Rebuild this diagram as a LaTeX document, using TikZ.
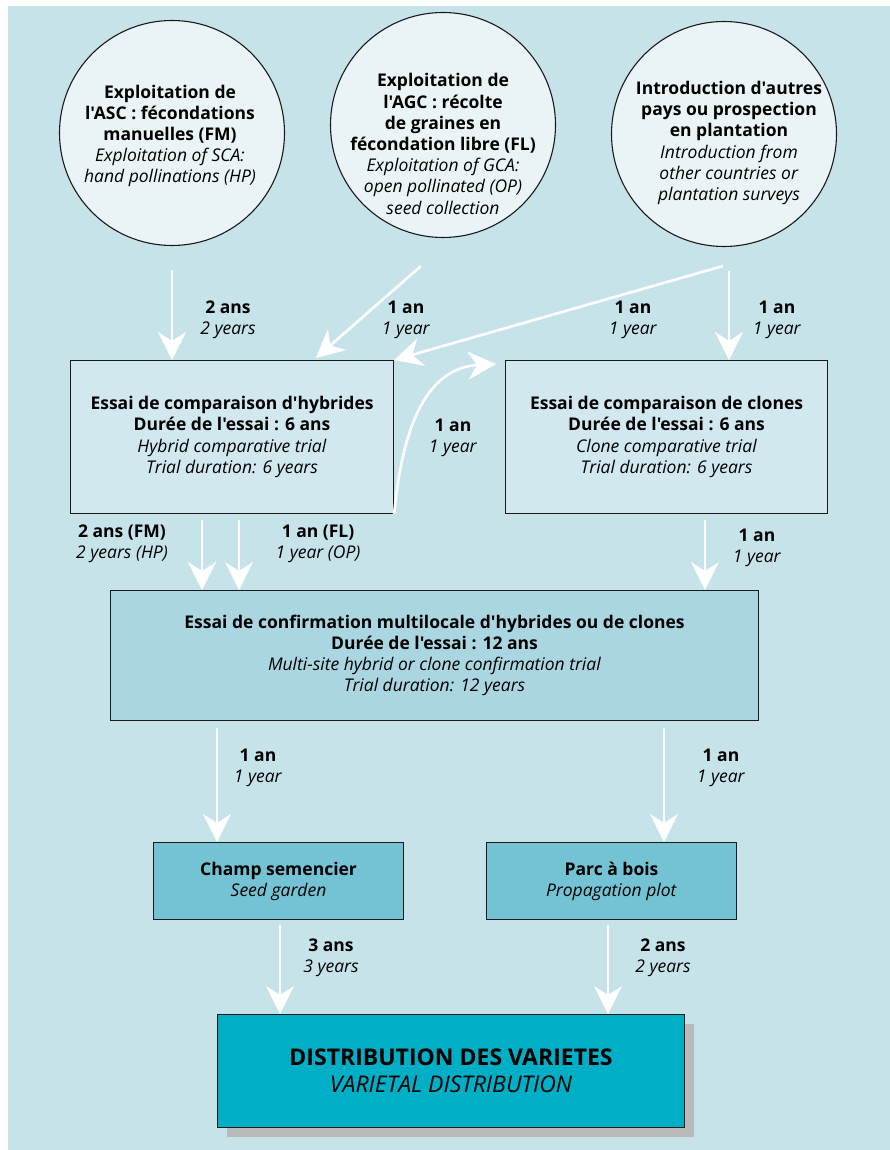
\documentclass[tikz,border=0pt]{standalone}
\usepackage{fontspec}
\setmainfont{Open Sans}[Ligatures={ResetAll,TeXOff}]
\usetikzlibrary{arrows.meta}
\definecolor{bgc}{HTML}{C6E3EA}
\definecolor{circc}{HTML}{EAF4F6}
\definecolor{boxa}{HTML}{D0E8EE}
\definecolor{boxc}{HTML}{A9D6E1}
\definecolor{boxd}{HTML}{74C3D4}
\definecolor{boxf}{HTML}{00AEC6}
\definecolor{shad}{HTML}{B9B9B9}
\definecolor{edge}{HTML}{1A1A1A}
\tikzset{
  circ/.style={circle, draw=edge, line width=1.1pt, fill=circc, minimum size=225pt, inner sep=0pt},
  bx/.style={draw=edge, line width=1.1pt, inner sep=0pt, anchor=north west},
  txt/.style={align=center, font=\fontsize{17.5}{21.2}\selectfont, inner sep=0pt},
  lbl/.style={align=center, font=\fontsize{17.5}{21.2}\selectfont, inner sep=0pt},
  arr/.style={draw=white, line width=2.6pt, -{Stealth[length=28pt,width=28pt,inset=9pt]}},
}
\begin{document}
\begin{tikzpicture}[x=1pt,y=-1pt]
\useasboundingbox (0,0) rectangle (890,1150);
\fill[bgc] (8,6) rectangle (890,1150);

% circles
\node[circ] (c1) at (172,133) {};
\node[circ] (c2) at (443,125) {};
\node[circ] (c3) at (724,134) {};
\node[txt] (t1) at (170,136) {\textbf{Exploitation de}\\\textbf{l'ASC : fécondations}\\\textbf{manuelles (FM)}\\\textit{Exploitation of SCA:}\\\textit{hand pollinations (HP)}};
\node[txt] (t2) at (443,144) {\textbf{Exploitation de}\\\textbf{l'AGC : récolte}\\\textbf{de graines en}\\\textbf{fécondation libre (FL)}\\\textit{Exploitation of GCA:}\\\textit{open pollinated (OP)}\\\textit{seed collection}};
\node[txt] (t3) at (729,143) {\textbf{Introduction d'autres}\\\textbf{pays ou prospection}\\\textbf{en plantation}\\\textit{Introduction from}\\\textit{other countries or}\\\textit{plantation surveys}};

% boxes
\node[bx, fill=boxa, minimum width=323pt, minimum height=153pt] (ba) at (70,360) {};
\node[txt] at (ba.center) {\textbf{Essai de comparaison d'hybrides}\\\textbf{Durée de l'essai : 6 ans}\\\textit{Hybrid comparative trial}\\\textit{Trial duration: 6 years}};
\node[bx, fill=boxa, minimum width=322pt, minimum height=153pt] (bb) at (505,360) {};
\node[txt] at (bb.center) {\textbf{Essai de comparaison de clones}\\\textbf{Durée de l'essai : 6 ans}\\\textit{Clone comparative trial}\\\textit{Trial duration: 6 years}};
\node[bx, fill=boxc, minimum width=648pt, minimum height=130pt] (bc) at (110,590) {};
\node[txt] at (bc.center) {\textbf{Essai de confirmation multilocale d'hybrides ou de clones}\\\textbf{Durée de l'essai : 12 ans}\\\textit{Multi-site hybrid or clone confirmation trial}\\\textit{Trial duration: 12 years}};
\node[bx, fill=boxd, minimum width=250pt, minimum height=77pt] (bd) at (153,842) {};
\node[txt] at (bd.center) {\textbf{Champ semencier}\\\textit{Seed garden}};
\node[bx, fill=boxd, minimum width=250pt, minimum height=77pt] (be) at (486,842) {};
\node[txt] at (be.center) {\textbf{Parc à bois}\\\textit{Propagation plot}};
\fill[shad] (227,1024) rectangle (694,1137);
\node[bx, fill=boxf, minimum width=467pt, minimum height=113pt] (bf) at (217,1014) {};
\node[align=center, inner sep=0pt, font=\fontsize{23}{27}\selectfont] at (bf.center) {\textbf{DISTRIBUTION DES VARIETES}\\\textit{VARIETAL DISTRIBUTION}};

% arrow start points
\coordinate (s1) at (172,270);
\coordinate (s2) at (421,266);
\coordinate (s3) at (723,266);
\coordinate (s4) at (729,271);
\coordinate (e2) at (316,358);
\coordinate (e5) at (496,364);
\coordinate (sa1) at (202,520);
\coordinate (sa2) at (239,520);
\coordinate (sb) at (705,520);
\coordinate (sc1) at (217,728);
\coordinate (sc2) at (664,728);
\coordinate (sd) at (280,925);
\coordinate (se) at (608,925);

\draw[arr] (s1) -- (s1 |- ba.north);
\draw[arr] (s2) -- (e2);
\draw[arr] (s3) -- (ba.north east);
\draw[arr] (s4) -- (s4 |- bb.north);
\draw[arr] (ba.south east) .. controls (402,430) and (425,368) .. (e5);
\draw[arr] (sa1) -- (sa1 |- bc.north);
\draw[arr] (sa2) -- (sa2 |- bc.north);
\draw[arr] (sb) -- (sb |- bc.north);
\draw[arr] (sc1) -- (sc1 |- bd.north);
\draw[arr] (sc2) -- (sc2 |- be.north);
\draw[arr] (sd) -- (sd |- bf.north);
\draw[arr] (se) -- (se |- bf.north);

% labels
\node[lbl] (l1) at (228,320) {\textbf{2 ans}\\\textit{2 years}};
\node[lbl] (l2) at (406,320) {\textbf{1 an}\\\textit{1 year}};
\node[lbl] (l3) at (633,320) {\textbf{1 an}\\\textit{1 year}};
\node[lbl] (l4) at (777,320) {\textbf{1 an}\\\textit{1 year}};
\node[lbl] (l5) at (453,438) {\textbf{1 an}\\\textit{1 year}};
\node[lbl] (l6) at (122,544) {\textbf{2 ans (FM)}\\\textit{2 years (HP)}};
\node[lbl] (l7) at (318,544) {\textbf{1 an (FL)}\\\textit{1 year (OP)}};
\node[lbl] (l8) at (757,548) {\textbf{1 an}\\\textit{1 year}};
\node[lbl] (l9) at (258,768) {\textbf{1 an}\\\textit{1 year}};
\node[lbl] (l10) at (721,768) {\textbf{1 an}\\\textit{1 year}};
\node[lbl] (l11) at (331,958) {\textbf{3 ans}\\\textit{3 years}};
\node[lbl] (l12) at (663,958) {\textbf{2 ans}\\\textit{2 years}};
\end{tikzpicture}
\end{document}
